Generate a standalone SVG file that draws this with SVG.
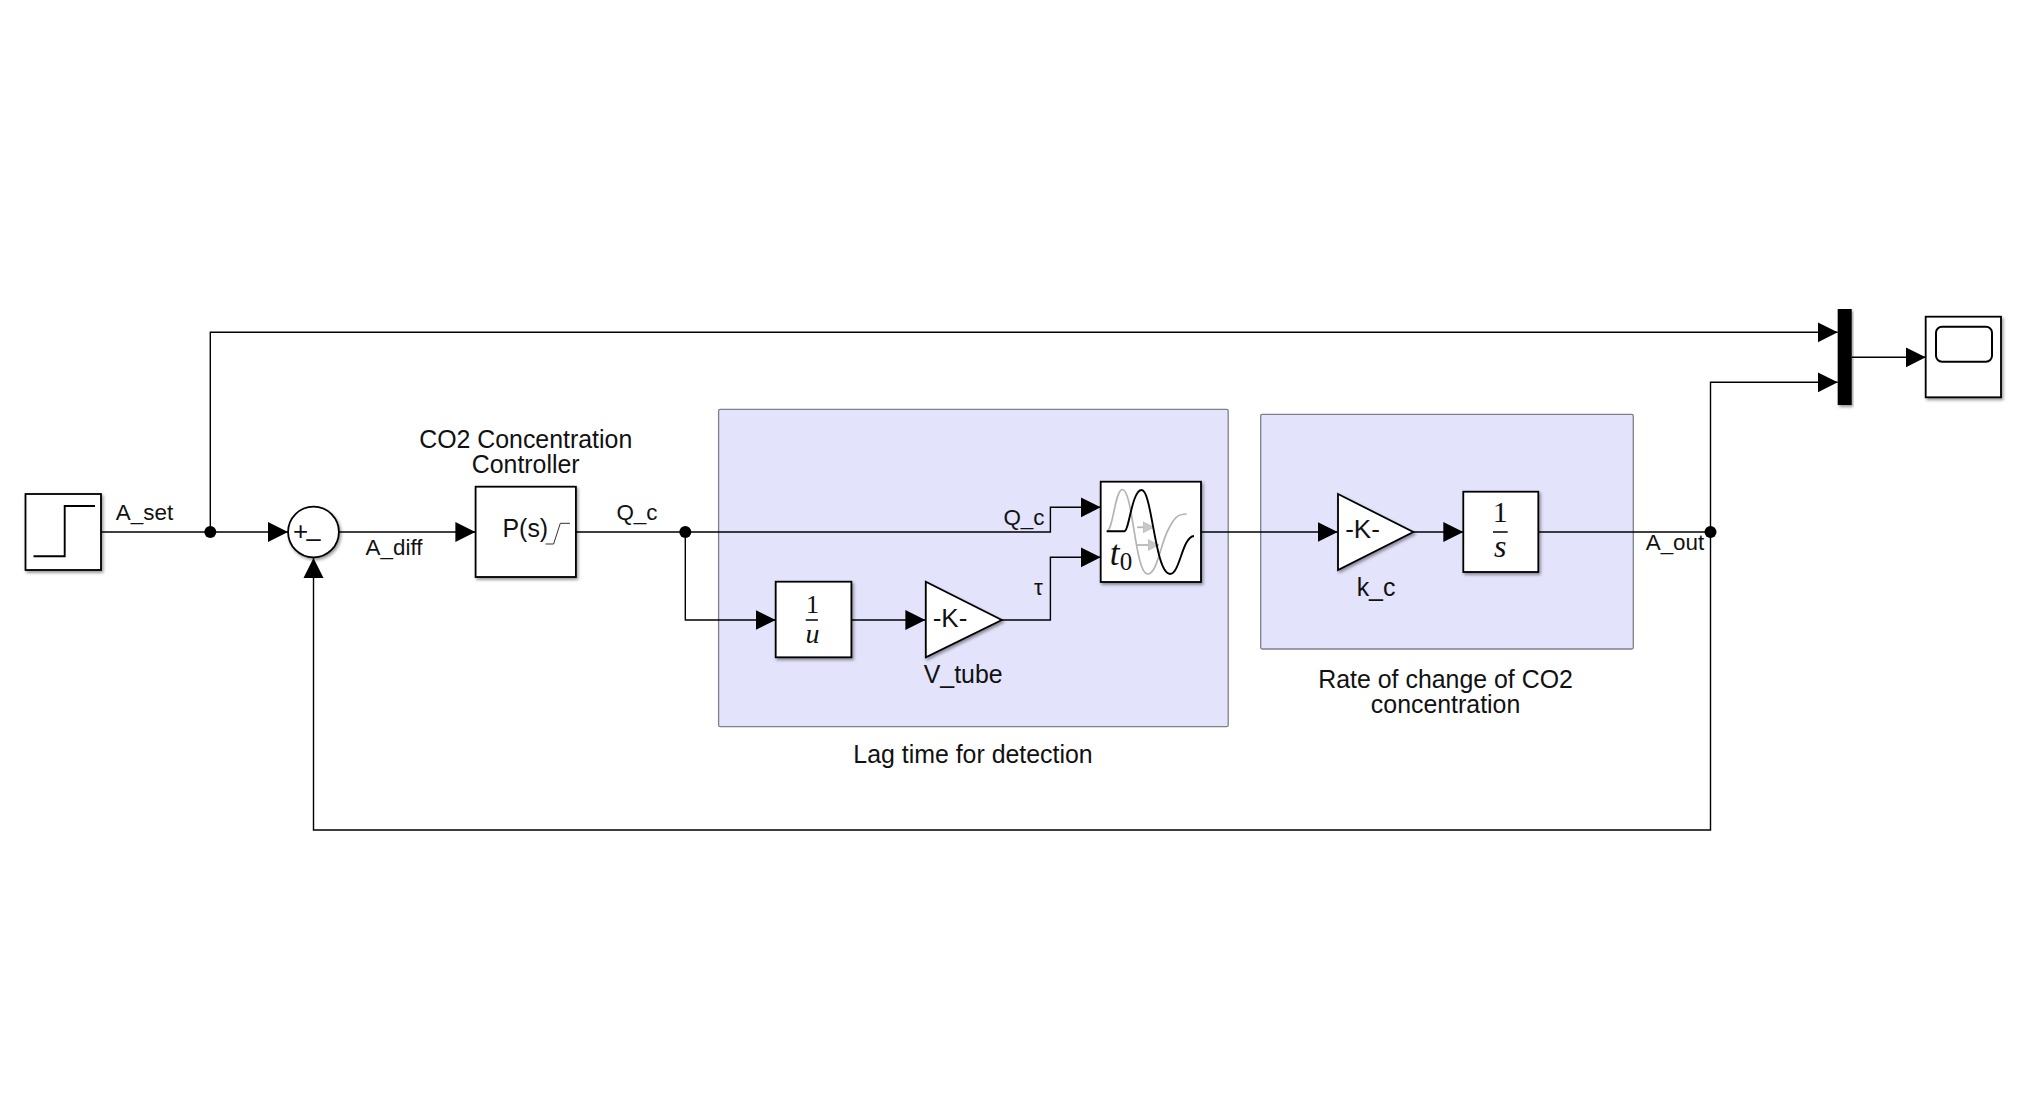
<svg xmlns="http://www.w3.org/2000/svg" width="2027" height="1098" viewBox="0 0 2027 1098">
<style>
text{font-family:"Liberation Sans",Arial,sans-serif;fill:#111;text-anchor:middle}
.lbl{font-size:24.9px}
.sig{font-size:22.4px}
.gain{font-size:26px}
.m{font-family:"Liberation Serif","Times New Roman",serif;font-size:28px}
.i{font-style:italic}
.area{fill:#e3e3fb;stroke:#7f7f8c;stroke-width:1.3}
.blk{fill:#fff;stroke:#000;stroke-width:1.8;filter:url(#sh)}
.w{fill:none;stroke:#000;stroke-width:1.4}
.ic{fill:none;stroke:#000;stroke-width:1.9}
.gy{fill:none;stroke:#b4b4b4;stroke-width:1.7}
.dot{fill:#000}
</style>
<defs>
<filter id="sh" x="-15%" y="-15%" width="130%" height="130%"><feDropShadow dx="1.5" dy="2" stdDeviation="1.8" flood-color="#000" flood-opacity="0.4"/></filter>
<marker id="a" markerUnits="userSpaceOnUse" markerWidth="21" markerHeight="22" refX="20" refY="11" orient="auto"><path d="M0,1L20,11L0,21Z" fill="#000"/></marker>
<marker id="ag" markerUnits="userSpaceOnUse" markerWidth="12" markerHeight="12" refX="11" refY="6" orient="auto"><path d="M0,0.5L11,6L0,11.5Z" fill="#c8c8c8" stroke="#b4b4b4" stroke-width="0.6"/></marker>
</defs>

<g id="area-lag">
<rect class="area" x="718.6" y="409.3" width="509.6" height="317.4" rx="1.5"/>
<text class="lbl" x="973" y="763.3">Lag time for detection</text>
</g>
<g id="area-rate">
<rect class="area" x="1260.7" y="414.3" width="372.6" height="234.7" rx="1.5"/>
<text class="lbl" x="1445.6" y="688.3">Rate of change of CO2</text>
<text class="lbl" x="1445.6" y="713.3">concentration</text>
</g>

<g id="connectors">
<path class="w" d="M101,532H288" marker-end="url(#a)"/>
<path class="w" d="M210.3,532V332.3H1837.7" marker-end="url(#a)"/>
<path class="w" d="M339,532H475.4" marker-end="url(#a)"/>
<path class="w" d="M576,532H1050.4V507.3H1100.7" marker-end="url(#a)"/>
<path class="w" d="M685.3,532V620H775.7" marker-end="url(#a)"/>
<path class="w" d="M851.4,620H925.4" marker-end="url(#a)"/>
<path class="w" d="M1001.8,620H1050.4V557.3H1100.7" marker-end="url(#a)"/>
<path class="w" d="M1201,532H1337.7" marker-end="url(#a)"/>
<path class="w" d="M1413.3,532H1463.3" marker-end="url(#a)"/>
<path class="w" d="M1538.3,532H1710.5" />
<path class="w" d="M1710.5,532V382.3H1837.7" marker-end="url(#a)"/>
<path class="w" d="M1710.5,532V830H313.5V558" marker-end="url(#a)"/>
<path class="w" d="M1851.7,357.3H1925.7" marker-end="url(#a)"/>
<circle class="dot" cx="210.3" cy="532" r="6"/>
<circle class="dot" cx="685.3" cy="532" r="6"/>
<circle class="dot" cx="1710.5" cy="532" r="6"/>
<text class="sig" x="144.5" y="520">A_set</text>
<text class="sig" x="394" y="555">A_diff</text>
<text class="sig" x="637" y="520">Q_c</text>
<text class="sig" x="1024" y="524.5">Q_c</text>
<text class="sig" x="1038.5" y="595">τ</text>
<text class="sig" x="1675" y="550">A_out</text>
</g>

<g id="step">
<rect class="blk" x="25.5" y="494" width="75.5" height="76"/>
<path class="ic" d="M33.5,556.3H64.7V506H95"/>
</g>
<g id="sum">
<circle class="blk" cx="313.5" cy="532" r="25.4"/>
<text x="300.5" y="540" style="font-size:26px">+</text>
<text x="313.5" y="547" style="font-size:26px">–</text>
</g>
<g id="controller">
<rect class="blk" x="475.6" y="486.7" width="100.3" height="90.3"/>
<text class="gain" x="525.3" y="537" style="font-size:24.9px">P(s)</text>
<path d="M545.5,544H553.6L560.3,523.3H570" fill="none" stroke="#333" stroke-width="1"/>
<text class="lbl" x="525.7" y="447.8">CO2 Concentration</text>
<text class="lbl" x="525.7" y="472.8">Controller</text>
</g>
<g id="reciprocal">
<rect class="blk" x="775.7" y="581.7" width="75.7" height="75.6"/>
<text class="m" x="812.5" y="613" style="font-size:26px">1</text>
<path d="M805.7,620H817.9" stroke="#000" stroke-width="1.5"/>
<text class="m i" x="812.5" y="643.3">u</text>
</g>
<g id="v-tube">
<path class="blk" d="M925.8,581.7L1001.8,620L925.8,657.3Z"/>
<text class="gain" x="950" y="627">-K-</text>
<text class="lbl" x="963.2" y="683">V_tube</text>
</g>
<g id="delay">
<rect class="blk" x="1100.7" y="481.7" width="100.3" height="100.3"/>
<path class="gy" d="M1106.7,531.3C1113,531 1115,490 1122.3,489.5C1133,489 1135,574 1147.5,574C1157,574 1160,546 1168,530C1174,518 1177,514 1186.7,514"/>
<path class="gy" d="M1137,527.3H1154" marker-end="url(#ag)"/>
<path class="gy" d="M1137,545H1159" marker-end="url(#ag)"/>
<path class="ic" d="M1106.7,531.3H1124.5C1129,531 1132,490 1141.7,490C1152,490 1155,574 1170,574C1180,574 1182,537 1194,536"/>
<text class="m i" x="1114.5" y="565" style="font-size:35px">t</text>
<text class="m" x="1126" y="569.5" style="font-size:25px">0</text>
</g>
<g id="k-c">
<path class="blk" d="M1338,494L1413.3,532L1338,570Z"/>
<text class="gain" x="1362.5" y="537.7">-K-</text>
<text class="lbl" x="1376" y="595.5">k_c</text>
</g>
<g id="integrator">
<rect class="blk" x="1463.3" y="491.7" width="75" height="80.3"/>
<text class="m" x="1500.3" y="521.7" style="font-size:30px">1</text>
<path d="M1493,532H1507.7" stroke="#000" stroke-width="1.5"/>
<text class="m i" x="1500.3" y="557.3" style="font-size:32px">s</text>
</g>
<g id="mux">
<rect x="1837.7" y="309" width="14" height="96" fill="#000" filter="url(#sh)"/>
</g>
<g id="scope">
<rect class="blk" x="1925.7" y="316.7" width="75.3" height="80.6"/>
<rect x="1936" y="326.7" width="56" height="35" rx="6" fill="none" stroke="#000" stroke-width="2"/>
</g>
</svg>
